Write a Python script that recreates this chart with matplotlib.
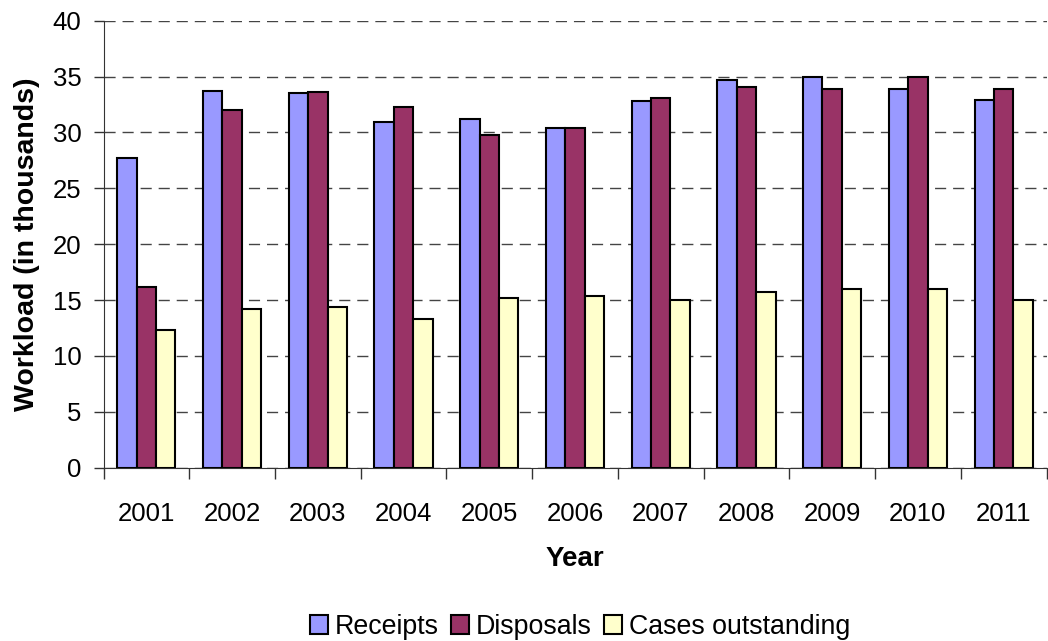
import matplotlib
matplotlib.use("Agg")
import matplotlib.pyplot as plt
import numpy as np

years = ["2001", "2002", "2003", "2004", "2005", "2006", "2007", "2008", "2009", "2010", "2011"]
receipts = [27.7, 33.7, 33.5, 30.9, 31.2, 30.4, 32.8, 34.7, 35.0, 33.9, 32.9]
disposals = [16.2, 32.0, 33.6, 32.3, 29.8, 30.4, 33.1, 34.1, 33.9, 35.0, 33.9]
outstanding = [12.3, 14.2, 14.4, 13.3, 15.2, 15.4, 15.0, 15.7, 16.0, 16.0, 15.0]
series_names = ["Receipts", "Disposals", "Cases outstanding"]
colors = ["#9999FF", "#993366", "#FFFFCC"]

plt.rcParams['font.family'] = ['Liberation Sans', 'DejaVu Sans']

fig = plt.figure(figsize=(10.48, 6.41), dpi=100)
ax = fig.add_axes([103.5/1048, 1 - 467.7/641, 943/1048, 447/641])

x = np.arange(len(years))
w = 0.226
for i, (vals, name, c) in enumerate(zip([receipts, disposals, outstanding], series_names, colors)):
    ax.bar(x + (i - 1) * w, vals, w, color=c, edgecolor="black", linewidth=1.5,
           label=name, zorder=3)

ax.set_xlim(-0.5, len(years) - 0.5)
ax.set_ylim(0, 40)
ax.set_yticks(np.arange(0, 41, 5))
ax.tick_params(axis='y', labelsize=18.5, length=7, width=1, color="#333333", pad=9)
ax.set_xticks(x)
ax.set_xticklabels(years)
ax.tick_params(axis='x', which='major', length=0, labelsize=18.5, pad=25)
ax.set_xticks(np.arange(-0.5, len(years), 1), minor=True)
ax.tick_params(axis='x', which='minor', length=8, width=1, color="#333333")

ax.yaxis.grid(True, linestyle=(0, (8, 5)), color="#444444", linewidth=1, zorder=0)
ax.set_axisbelow(True)
for s in ["top", "right"]:
    ax.spines[s].set_visible(False)
ax.spines["left"].set_color("#333333")
ax.spines["bottom"].set_color("#333333")

ax.set_ylabel("Workload (in thousands)", fontsize=20.5, fontweight="bold", labelpad=9)
ax.set_xlabel("Year", fontsize=20, fontweight="bold", labelpad=14)

leg = fig.legend(loc="center", bbox_to_anchor=(580/1048, 1 - 627/641), ncol=3,
                 frameon=False, fontsize=19.3, handlelength=0.67, handleheight=0.67,
                 handletextpad=0.26, columnspacing=0.45)

fig.savefig("out.png", dpi=100)
